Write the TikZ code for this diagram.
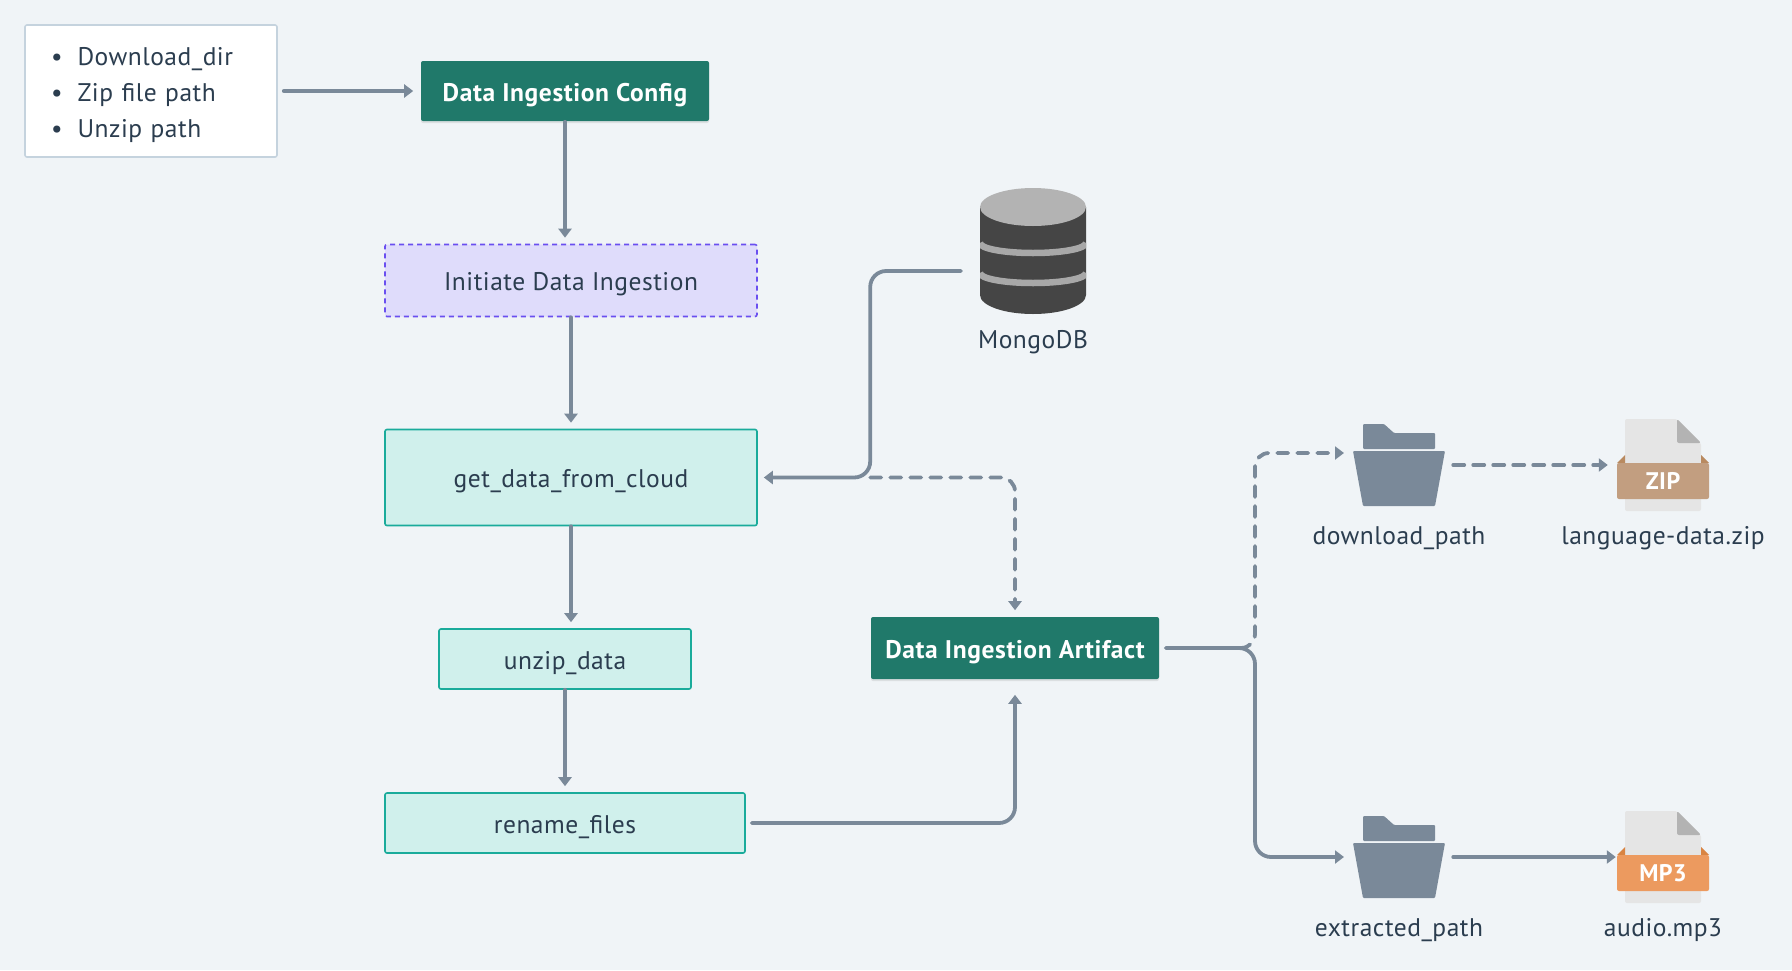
\documentclass[tikz,border=0pt]{standalone}
\usepackage{fontspec}
\setmainfont{PT Sans}[LetterSpace=2]
\newfontfamily\headfont{PT Sans Bold}[LetterSpace=2.4]
\newfontfamily\tagfont{PT Sans Bold}[LetterSpace=2]
\usetikzlibrary{arrows.meta,calc,shadows}
\definecolor{pagebg}{HTML}{F0F4F7}
\definecolor{linegray}{HTML}{7A8999}
\definecolor{inkblue}{HTML}{2B3D4F}
\definecolor{deepgreen}{HTML}{20796A}
\definecolor{tealfill}{HTML}{D0F0EC}
\definecolor{tealline}{HTML}{1AAB9B}
\definecolor{lilacfill}{HTML}{DFDCFB}
\definecolor{lilacline}{HTML}{6A4FF0}
\definecolor{cardline}{HTML}{C5D3DE}
\definecolor{dbdark}{HTML}{454545}
\definecolor{dblight}{HTML}{B3B3B3}
\definecolor{dbband}{HTML}{A8A8A8}
\definecolor{zipband}{HTML}{C29E80}
\definecolor{zipdark}{HTML}{B98A60}
\definecolor{mpband}{HTML}{EC9A5F}
\definecolor{mpdark}{HTML}{D98442}
\tikzset{
  plainbox/.style={rectangle,rounded corners=2pt,inner sep=0pt,line width=1.6pt,text=inkblue},
  txt/.style={font=\fontsize{25.5}{30}\selectfont,text=inkblue,text height=20pt,text depth=0pt},
  box/.style={plainbox,txt},
  greenbox/.style={box,fill=deepgreen,text=white,font=\fontsize{25.5}{30}\selectfont\headfont,
    drop shadow={opacity=.18,shadow xshift=0pt,shadow yshift=-2pt}},
  tealbox/.style={box,draw=tealline,fill=tealfill},
  iconbox/.style={rectangle,inner sep=0pt,minimum width=92pt,minimum height=92pt},
  conn/.style={draw=linegray,line width=3.8pt,line cap=round,rounded corners=16pt,
    -{Triangle[length=9pt,width=13pt]},shorten >=6pt},
  dashconn/.style={conn,dash pattern=on 11pt off 9pt}
}
\newcommand{\drawfolder}[1]{
\begin{scope}[shift={(#1.center)}]
\fill[linegray,rounded corners=1pt] (-36,-41) -- (-15,-41) -- (-5,-32) -- (36,-32) -- (36,-16) -- (-36,-16) -- cycle;
\fill[linegray,rounded corners=1pt] (-46,-14) -- (46,-14) -- (36,41) -- (-36,41) -- cycle;
\end{scope}
}
\newcommand{\drawfile}[4]{
\begin{scope}[shift={(#1.center)}]
\fill[black!10,rounded corners=2pt] (-38,-46) -- (14,-46) -- (38,-22) -- (38,46) -- (-38,46) -- cycle;
\fill[dblight,rounded corners=2pt] (14,-46) -- (38,-22) -- (14,-22) -- cycle;
\fill[#3] (-46,-2) -- (-38,-10) -- (-38,-2) -- cycle;
\fill[#3] (46,-2) -- (38,-10) -- (38,-2) -- cycle;
\fill[#2,rounded corners=2pt] (-46,-2) rectangle (46,34);
\node[font=\fontsize{24}{26}\selectfont\tagfont,text=white] (#1text) at (0,16) {#4};
\end{scope}
}
\begin{document}
\begin{tikzpicture}[x=1pt,y=-1pt]
\fill[pagebg] (0,0) rectangle (1792,970);
\useasboundingbox (0,0) rectangle (1792,970);

% boxes
\node[plainbox,draw=cardline,fill=white,minimum width=252pt,minimum height=132pt,text width=200pt,align=left,
  font=\fontsize{25.5}{36}\selectfont] (settings) at (151,91)
  {\rule{0pt}{27pt}\textbullet\hspace{15pt}Download\_dir\\ \textbullet\hspace{15pt}Zip file path\\ \textbullet\hspace{15pt}Unzip path};
\node[greenbox,minimum width=288pt,minimum height=60pt] (config) at (565,91) {Data Ingestion Config};
\node[box,draw=lilacline,fill=lilacfill,dash pattern=on 5pt off 4pt,minimum width=372pt,minimum height=72pt] (initiate) at (571,280.5) {Initiate Data Ingestion};
\node[tealbox,minimum width=372pt,minimum height=96pt] (getdata) at (571,477.5) {get\_data\_from\_cloud};
\node[tealbox,minimum width=252pt,minimum height=60pt] (unzip) at (565,659) {unzip\_data};
\node[tealbox,minimum width=360pt,minimum height=60pt] (rename) at (565,823) {rename\_files};
\node[greenbox,minimum width=288pt,minimum height=62pt] (artifact) at (1015,648) {Data Ingestion Artifact};

% database
\node[iconbox,minimum width=106pt,minimum height=126pt] (mongo) at (1033,251) {};
\begin{scope}[shift={(mongo.center)}]
\fill[dbdark] (-53,-44) -- (53,-44) -- (53,44) arc (0:180:53 and 19) -- cycle;
\begin{scope}
\clip (-53,-44) rectangle (53,63);
\draw[dbband,line width=6.5pt] (-53,-8) arc (180:0:53 and 10);
\draw[dbband,line width=6.5pt] (-53,22) arc (180:0:53 and 10);
\end{scope}
\fill[dblight] (0,-44) ellipse (53 and 19);
\end{scope}
\node[txt] (mongolabel) at (1033,338.5) {MongoDB};

% folders and files
\node[iconbox] (dlfolder) at (1399,465) {};
\node[iconbox] (exfolder) at (1399,857) {};
\node[iconbox] (zipfile) at (1663,465) {};
\node[iconbox] (mpfile) at (1663,857) {};
\drawfolder{dlfolder}
\drawfolder{exfolder}
\drawfile{zipfile}{zipband}{zipdark}{ZIP}
\drawfile{mpfile}{mpband}{mpdark}{MP3}
\node[txt] (dllabel) at (1399,534.5) {download\_path};
\node[txt] (ziplabel) at (1663,534.5) {language-data.zip};
\node[txt] (exlabel) at (1399,926.5) {extracted\_path};
\node[txt] (mplabel) at (1663,926.5) {audio.mp3};

\coordinate (mongoout) at (961,271);
\coordinate (split) at (1255,648);
\coordinate (dlin) at (1344,453);

% connectors
\draw[conn,shorten <=6pt,shorten >=7pt] (settings) -- (config);
\draw[conn] (config.south) -- (config.south |- initiate.north);
\draw[conn] (initiate) -- (getdata);
\draw[conn] (getdata.south) -- (getdata.south |- unzip.north);
\draw[conn] (unzip) -- (rename);
\draw[conn,shorten <=6pt,shorten >=15pt] (rename.east) -| (artifact.south);
\draw[dashconn,rounded corners=14pt] (artifact.west |- getdata.east) -| (artifact.north);
\draw[conn] (mongoout) -| (artifact.west |- getdata.east) -- (getdata.east);
\draw[dashconn,rounded corners=14pt,shorten >=0pt] ($(split)+(-15,0)$) -- (split) |- (dlin);
\draw[conn,shorten <=6pt,shorten >=55pt] (artifact.east) -- (split) |- (exfolder.center);
\draw[dashconn,shorten <=8pt,shorten >=9pt] (dlfolder.east) -- (zipfile.west);
\draw[conn,shorten <=8pt,shorten >=1pt] (exfolder.east) -- (mpfile.west);
\end{tikzpicture}
\end{document}
